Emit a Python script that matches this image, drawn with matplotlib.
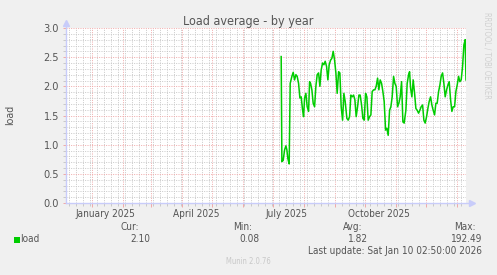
"""
Munin load average - by year
"""
import datetime as dt
import matplotlib
matplotlib.use("Agg")
import matplotlib.pyplot as plt
import matplotlib.dates as mdates
from matplotlib import font_manager
from matplotlib.lines import Line2D
from matplotlib.patches import Rectangle

# days counted from 2025-01-01
days = [
    189.3, 190.0, 191.3, 192.7, 194.0, 195.0, 196.0, 197.3, 198.3, 200.0,
    201.3, 202.7, 204.0, 205.3, 206.7, 208.0, 209.3, 210.7, 211.7, 212.7,
    214.0, 215.3, 216.7, 217.7, 218.7, 220.0, 221.3, 222.7, 224.0, 225.3,
    226.7, 228.0, 229.3, 230.7, 232.0, 233.3, 234.7, 236.0, 237.3, 238.7,
    240.0, 241.3, 242.7, 244.0, 245.3, 246.7, 248.0, 249.3, 250.7, 252.0,
    253.3, 255.0, 256.3, 257.7, 259.0, 260.3, 261.7, 263.0, 264.3, 265.7,
    267.0, 268.3, 269.7, 271.0, 272.3, 273.7, 275.0, 276.3, 277.7, 279.0,
    280.3, 281.7, 283.0, 284.3, 285.7, 287.0, 288.3, 289.7, 291.0, 292.3,
    293.7, 295.0, 296.3, 297.7, 299.0, 300.3, 301.7, 303.0, 304.3, 305.7,
    307.0, 308.3, 309.7, 311.0, 312.3, 314.0, 315.3, 316.7, 317.7, 318.7,
    320.0, 321.3, 322.7, 324.0, 325.3, 326.7, 328.0, 329.3, 330.7, 332.0,
    333.3, 334.7, 336.0, 337.3, 338.7, 340.0, 341.3, 342.7, 344.0, 345.3,
    346.7, 348.0, 349.3, 350.7, 352.0, 353.3, 354.7, 356.0, 357.3, 358.7,
    360.0, 361.3, 362.7, 364.0, 365.3, 366.7, 368.0, 369.3, 370.7, 372.0,
    373.3, 374.1,
]
load = [
    2.51, 0.71, 0.73, 0.91, 0.98, 0.91, 0.76, 0.67, 2.05, 2.17,
    2.24, 2.11, 2.20, 2.17, 2.05, 1.80, 1.82, 1.59, 1.48, 1.80,
    1.88, 1.65, 1.57, 2.08, 2.05, 1.94, 1.71, 1.65, 2.00, 2.20,
    2.23, 2.00, 2.28, 2.40, 2.37, 2.43, 2.34, 2.11, 2.37, 2.45,
    2.48, 2.60, 2.45, 2.23, 1.88, 2.25, 2.23, 1.65, 1.42, 1.88,
    1.74, 1.45, 1.42, 1.48, 1.85, 1.82, 1.85, 1.77, 1.48, 1.65,
    1.85, 1.85, 1.68, 1.45, 1.42, 1.88, 1.82, 1.42, 1.48, 1.51,
    1.91, 1.94, 1.94, 2.00, 2.14, 1.94, 2.11, 2.05, 1.91, 1.74,
    1.25, 1.28, 1.16, 1.59, 1.65, 1.82, 2.17, 2.05, 2.00, 1.65,
    1.71, 1.82, 2.08, 1.39, 1.37, 1.59, 2.05, 2.20, 2.25, 1.97,
    1.82, 2.11, 1.88, 1.62, 1.59, 1.54, 1.59, 1.65, 1.68, 1.42,
    1.37, 1.48, 1.62, 1.74, 1.82, 1.68, 1.59, 1.51, 1.71, 1.71,
    1.91, 2.02, 2.17, 2.23, 2.05, 1.82, 1.94, 2.02, 2.08, 1.77,
    1.57, 1.65, 1.65, 1.91, 2.02, 2.17, 2.08, 2.11, 2.34, 2.71,
    2.80, 2.11,
]

month_labels = ["January 2025", "April 2025", "July 2025", "October 2025"]
month_label_dates = ["2025-01-15", "2025-04-15", "2025-07-15", "2025-10-15"]

stat_names = ["Cur:", "Min:", "Avg:", "Max:"]
stat_values = ["2.10", "0.08", "1.82", "192.49"]

title = "Load average - by year"
last_update = "Last update: Sat Jan 10 02:50:00 2026"
end_time = dt.datetime(2026, 1, 10, 2, 50)
start_time = end_time - dt.timedelta(days=400)

BG = "#F0F0F0"
TXT = "#555555"
AXIS = "#C8CCFA"
GRID = "#C8C8C8"
MGRID = "#F0A8A8"
W, H = 497, 275

# rrdtool renders a narrow DejaVu; use the condensed cut when installed
has_cond = any(f.name == "DejaVu Sans" and f.stretch == "condensed"
               for f in font_manager.fontManager.ttflist)
if has_cond:
    FONT = dict(family="DejaVu Sans", fontstretch="condensed")
    FS, FS_T = 7.2, 9.0
else:
    FONT = dict(family="DejaVu Sans")
    FS, FS_T = 6.6, 8.1
print("condensed:", has_cond)

base = dt.datetime(2025, 1, 1)
times = [base + dt.timedelta(days=d) for d in days]

fig = plt.figure(figsize=(W / 100, H / 100), dpi=100, facecolor=BG)
ax = fig.add_axes([66 / W, 1 - 203 / H, 400 / W, 175 / H])
ax.set_facecolor("white")
ax.set_xlim(start_time, end_time)
ax.set_ylim(0, 3)

for s in ax.spines.values():
    s.set_visible(False)

# grid
ax.xaxis.set_major_locator(mdates.MonthLocator())
ax.xaxis.set_minor_locator(mdates.WeekdayLocator(byweekday=mdates.MO))
ax.yaxis.set_major_locator(plt.MultipleLocator(0.5))
ax.yaxis.set_minor_locator(plt.MultipleLocator(0.1))
ax.grid(which="minor", color=GRID, linestyle=(0, (1, 1.4)), linewidth=0.7)
ax.grid(which="major", color=MGRID, linestyle=(0, (1, 1.4)), linewidth=0.7)
ax.set_axisbelow(True)

ax.tick_params(axis="x", which="major", length=3, width=0.7, color=MGRID,
               labelbottom=False)
ax.tick_params(axis="x", which="minor", length=2, width=0.7, color=GRID)
ax.tick_params(axis="y", which="major", length=2, width=0.7, color=MGRID,
               labelsize=FS + 0.6, labelcolor=TXT, pad=3)
ax.tick_params(axis="y", which="minor", length=2, width=0.7, color=GRID)
ax.yaxis.set_major_formatter(plt.FormatStrFormatter("%.1f"))
for t in ax.get_yticklabels():
    t.set(**FONT)

for lab, d in zip(month_labels, month_label_dates):
    ax.text(dt.datetime.fromisoformat(d), -0.035, lab, transform=ax.get_xaxis_transform(),
            ha="center", va="top", fontsize=FS, color=TXT, **FONT)

ax.plot(times, load, color="#00CC00", linewidth=1.1, zorder=3)

# axes with arrows
ax.add_line(Line2D([0, 0], [0, 1.03], transform=ax.transAxes, color=AXIS,
                   linewidth=1, clip_on=False, zorder=4))
ax.add_line(Line2D([0, 1.015], [0, 0], transform=ax.transAxes, color=AXIS,
                   linewidth=1, clip_on=False, zorder=4))
ax.plot([0], [1.03], marker="^", markersize=4, color=AXIS, transform=ax.transAxes,
        clip_on=False, zorder=4)
ax.plot([1.015], [0], marker=">", markersize=4, color=AXIS, transform=ax.transAxes,
        clip_on=False, zorder=4)


def px(x, y):
    return x / W, 1 - y / H


fig.text(*px(248.5, 21), title, ha="center", va="center", fontsize=FS_T, color=TXT, **FONT)
fig.text(*px(10, 115), "load", ha="center", va="center", rotation=90,
         fontsize=FS + 0.4, color=TXT, **FONT)
fig.text(*px(487, 55), "RRDTOOL / TOBI OETIKER", ha="center", va="center",
         rotation=270, fontsize=5.5, color="#D0D0D0", **FONT)

# legend / stats
fig.patches.append(Rectangle(px(14, 243), 6 / W, 6 / H, transform=fig.transFigure,
                             facecolor="#00CC00", edgecolor="none"))
fig.text(*px(20, 239.5), "load", ha="left", va="center", fontsize=FS, color=TXT, **FONT)
for name, val, xh, xv in zip(stat_names, stat_values, [139, 252, 362, 476],
                             [150, 259, 368, 482]):
    fig.text(*px(xh, 227), name, ha="right", va="center", fontsize=FS, color=TXT, **FONT)
    fig.text(*px(xv, 239.5), val, ha="right", va="center", fontsize=FS, color=TXT, **FONT)
fig.text(*px(482, 251), last_update, ha="right", va="center", fontsize=FS, color=TXT, **FONT)
fig.text(*px(248, 262), "Munin 2.0.76", ha="center", va="center", fontsize=5.5,
         color="#C8C8C8", **FONT)

fig.savefig("out.png", dpi=100, facecolor=BG)
